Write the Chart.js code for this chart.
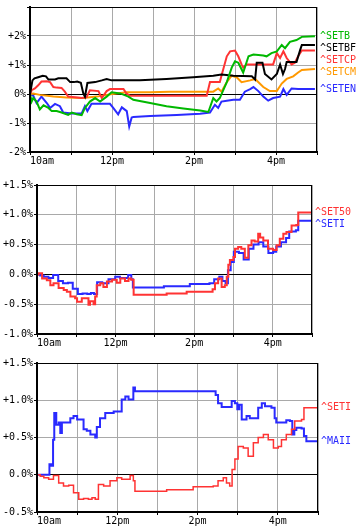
<!DOCTYPE html>
<html>
<head>
<meta charset="utf-8">
<script src="https://cdn.jsdelivr.net/npm/chart.js@4.4.1/dist/chart.umd.min.js"></script>
<style>
  html, body { margin: 0; padding: 0; background: #fff; }
  canvas { position: absolute; left: 0; }
</style>
</head>
<body>
<canvas id="c1" width="363" height="170" style="top:0"></canvas>
<canvas id="c2" width="363" height="180" style="top:170px"></canvas>
<canvas id="c3" width="363" height="177" style="top:350px"></canvas>
<script>
// === Данные: [час, % изменения] ===
const setb = [[10,0],[10.04,-0.26],[10.08,-0.14],[10.16,-0.26],[10.24,-0.53],[10.33,-0.39],[10.45,-0.48],
  [10.53,-0.59],[10.65,-0.59],[10.77,-0.64],[10.93,-0.72],[11.02,-0.64],[11.14,-0.70],[11.26,-0.73],
  [11.34,-0.48],[11.46,-0.26],[11.59,-0.14],[11.71,-0.26],[11.87,-0.09],[11.99,0.06],[12.2,0.02],
  [12.4,-0.09],[12.52,-0.2],[12.93,-0.31],[13.33,-0.42],[13.74,-0.5],[14.15,-0.57],[14.35,-0.62],
  [14.47,-0.14],[14.55,-0.26],[14.63,-0.14],[14.8,0.41],[14.92,0.91],[15,1.13],[15.08,1.08],[15.2,0.74],
  [15.33,1.3],[15.45,1.36],[15.69,1.33],[15.77,1.3],[15.89,1.41],[16.02,1.47],[16.14,1.69],[16.22,1.58],
  [16.34,1.8],[16.5,1.86],[16.63,1.97],[16.95,1.99]];
const setbf = [[10,0],[10.06,0.47],[10.11,0.54],[10.2,0.58],[10.31,0.63],[10.39,0.61],[10.45,0.5],
  [10.61,0.5],[10.69,0.54],[10.89,0.54],[10.98,0.41],[11.07,0.41],[11.15,0.43],[11.24,0.39],[11.3,0.02],
  [11.34,-0.09],[11.4,0.38],[11.59,0.41],[11.75,0.47],[11.87,0.52],[11.99,0.47],[12.68,0.47],[13.33,0.52],
  [13.98,0.58],[14.47,0.63],[14.67,0.67],[14.96,0.63],[15.41,0.61],[15.49,0.5],[15.53,1.08],[15.67,1.08],
  [15.73,0.69],[15.89,0.5],[16.02,0.69],[16.1,1.02],[16.17,0.69],[16.22,0.86],[16.26,1.1],[16.5,1.1],
  [16.59,1.52],[16.63,1.69],[16.95,1.69]];
const setcp = [[10,0],[10.04,0.13],[10.12,0.19],[10.2,0.3],[10.28,0.43],[10.41,0.44],[10.49,0.41],
  [10.57,0.24],[10.65,0.22],[10.77,0.21],[10.85,0.08],[10.93,-0.09],[11.26,-0.14],[11.38,-0.11],
  [11.46,0.13],[11.67,0.1],[11.75,-0.14],[11.87,0.1],[11.95,0.17],[12.28,0.17],[12.35,0.02],[12.44,-0.06],
  [14.31,-0.06],[14.39,0.41],[14.63,0.41],[14.67,0.63],[14.8,1.3],[14.88,1.47],[15,1.5],[15.08,1.3],
  [15.16,1.02],[15.2,0.91],[15.28,1.02],[15.61,1.02],[15.93,1.02],[16.02,1.41],[16.1,1.24],[16.18,1.47],
  [16.26,1.24],[16.38,1.02],[16.46,1.08],[16.54,1.3],[16.63,1.5],[16.95,1.5]];
const setcm = [[10,0],[10.08,0.02],[10.24,-0.03],[10.57,-0.09],[10.89,-0.12],[11.3,-0.14],[11.63,-0.09],
  [11.87,-0.03],[12.11,0.02],[12.36,0.06],[12.93,0.06],[13.41,0.08],[14.47,0.08],[14.59,0.19],[14.67,0.08],
  [14.8,0.41],[14.92,0.63],[15.04,0.58],[15.16,0.41],[15.37,0.47],[15.49,0.52],[15.69,0.24],[15.85,0.1],
  [16.02,0.1],[16.14,0.36],[16.26,0.52],[16.42,0.61],[16.54,0.74],[16.63,0.83],[16.95,0.86]];
const seten = [[10,0],[10.08,-0.06],[10.16,-0.31],[10.28,-0.09],[10.41,-0.31],[10.49,-0.48],[10.61,-0.34],
  [10.73,-0.42],[10.81,-0.64],[11.02,-0.67],[11.26,-0.67],[11.34,-0.42],[11.4,-0.59],[11.5,-0.34],
  [11.71,-0.34],[11.95,-0.34],[12.03,-0.48],[12.15,-0.7],[12.24,-0.46],[12.36,-0.59],[12.42,-1.12],
  [12.48,-0.81],[12.52,-0.79],[12.93,-0.76],[13.58,-0.72],[14.15,-0.68],[14.39,-0.64],[14.51,-0.37],
  [14.59,-0.48],[14.67,-0.26],[14.8,-0.23],[14.96,-0.2],[15.12,-0.2],[15.24,0.08],[15.37,0.17],
  [15.45,0.24],[15.57,0.1],[15.69,-0.09],[15.81,-0.23],[15.93,-0.14],[16.1,-0.09],[16.18,0.17],
  [16.26,-0.03],[16.38,0.19],[16.54,0.17],[16.95,0.17]];

const set50 = [[10,0],[10.04,0.02],[10.13,-0.07],[10.25,-0.1],[10.34,-0.18],[10.42,-0.15],[10.55,-0.23],
  [10.68,-0.26],[10.76,-0.29],[10.85,-0.37],[10.97,-0.4],[11.02,-0.46],[11.14,-0.4],[11.27,-0.4],
  [11.31,-0.51],[11.35,-0.45],[11.44,-0.5],[11.48,-0.37],[11.52,-0.18],[11.61,-0.15],[11.69,-0.21],
  [11.78,-0.12],[11.91,-0.09],[12.03,-0.14],[12.12,-0.07],[12.24,-0.11],[12.33,-0.07],[12.4,-0.09],
  [12.46,-0.34],[12.62,-0.34],[13.3,-0.32],[13.81,-0.29],[14.47,-0.25],[14.53,-0.15],[14.61,-0.07],
  [14.7,-0.21],[14.78,-0.18],[14.83,-0.04],[14.87,0.16],[14.91,0.24],[15,0.29],[15.04,0.43],[15.12,0.46],
  [15.2,0.43],[15.29,0.28],[15.38,0.49],[15.46,0.57],[15.54,0.55],[15.63,0.68],[15.68,0.62],[15.76,0.57],
  [15.88,0.43],[16.01,0.41],[16.1,0.49],[16.18,0.6],[16.27,0.68],[16.35,0.71],[16.48,0.82],[16.6,0.83],
  [16.65,1.04],[17,1.04]];
const seti = [[10,0],[10.08,-0.02],[10.17,-0.04],[10.29,-0.06],[10.41,-0.01],[10.54,-0.11],[10.66,-0.15],
  [10.79,-0.14],[10.91,-0.24],[11.04,-0.33],[11.16,-0.32],[11.28,-0.33],[11.37,-0.31],[11.45,-0.33],
  [11.53,-0.13],[11.66,-0.15],[11.82,-0.08],[11.99,-0.04],[12.11,-0.06],[12.32,-0.01],[12.4,-0.08],
  [12.44,-0.22],[12.57,-0.22],[13.23,-0.2],[13.89,-0.16],[14.39,-0.15],[14.51,-0.08],[14.64,-0.04],
  [14.72,-0.11],[14.8,-0.15],[14.86,0.07],[14.93,0.21],[15.01,0.38],[15.14,0.36],[15.26,0.25],
  [15.39,0.43],[15.51,0.5],[15.64,0.54],[15.76,0.47],[15.89,0.36],[16.01,0.38],[16.09,0.47],
  [16.21,0.54],[16.34,0.61],[16.42,0.72],[16.59,0.74],[16.65,0.9],[17,0.9]];
const maii = [[10,0],[10.25,0],[10.31,0.14],[10.36,0.12],[10.4,0.47],[10.43,0.83],[10.48,0.67],[10.54,0.7],
  [10.58,0.56],[10.62,0.7],[10.75,0.7],[10.83,0.76],[10.91,0.79],[11,0.74],[11.12,0.74],[11.16,0.61],
  [11.24,0.59],[11.33,0.54],[11.45,0.5],[11.49,0.64],[11.57,0.76],[11.7,0.83],[11.82,0.83],[11.91,0.85],
  [12.03,0.85],[12.11,1.01],[12.2,1.05],[12.28,1.01],[12.36,1.01],[12.4,1.17],[12.44,1.12],[12.57,1.12],
  [14.39,1.12],[14.45,1.07],[14.51,0.96],[14.6,0.91],[14.8,0.91],[14.85,0.99],[14.93,0.96],[14.99,0.88],
  [15.04,0.94],[15.1,0.74],[15.22,0.79],[15.3,0.76],[15.43,0.76],[15.51,0.9],[15.6,0.96],[15.68,0.92],
  [15.84,0.9],[15.92,0.76],[15.96,0.7],[16.13,0.7],[16.21,0.73],[16.3,0.72],[16.36,0.54],[16.41,0.6],
  [16.46,0.63],[16.59,0.62],[16.65,0.52],[16.71,0.45],[17,0.45]];

const hourTicks = [10, 11, 12, 13, 14, 15, 16, 17];

// === Общие настройки ===
const FONT = { family: '"DejaVu Sans Mono", monospace', size: 10 };
const GRID = '#a9a9a9';

function hourLabel(h) {
  if (h % 2) return '';
  if (h === 12) return '12pm';
  return h < 12 ? h + 'am' : (h - 12) + 'pm';
}

// подписи серий справа + чёрная рамка
const edgeLabels = {
  id: 'edgeLabels',
  afterDatasetsDraw(chart) {
    const { ctx, chartArea: a, scales } = chart;
    const items = chart.data.datasets.map(ds => ({
      text: ds.label,
      color: ds.borderColor,
      y: scales.y.getPixelForValue(ds.data[ds.data.length - 1].y)
    })).sort((p, q) => p.y - q.y);
    for (let i = 1; i < items.length; i++)
      if (items[i].y - items[i - 1].y < 12) items[i].y = items[i - 1].y + 12;
    ctx.save();
    ctx.strokeStyle = '#000';
    ctx.lineWidth = 1;
    ctx.strokeRect(a.left + 0.5, a.top + 0.5, a.width - 1, a.height - 1);
    ctx.font = '10px "DejaVu Sans Mono"';
    ctx.textBaseline = 'middle';
    items.forEach(it => {
      ctx.fillStyle = it.color;
      ctx.fillText(it.text, a.right + 3, it.y);
    });
    ctx.restore();
  }
};

function makeChart(id, series, box, yOpt, stepped) {
  new Chart(document.getElementById(id), {
    type: 'line',
    data: {
      datasets: series.map(s => ({
        label: s.label,
        data: s.data.map(([x, y]) => ({ x, y })),
        borderColor: s.color,
        borderWidth: s.width || 2,
        pointRadius: 0,
        tension: 0,
        stepped: stepped,
        fill: false
      }))
    },
    options: {
      responsive: false,
      animation: false,
      devicePixelRatio: 1,
      layout: { padding: { left: 0, right: box.right, top: box.top, bottom: 0 } },
      plugins: { legend: { display: false }, tooltip: { enabled: false } },
      scales: {
        x: {
          type: 'linear',
          min: 10,
          max: 17,
          afterFit: s => { s.height = box.xh; },
          afterBuildTicks: s => { s.ticks = hourTicks.map(v => ({ value: v })); },
          grid: { color: GRID, tickLength: 3, tickColor: '#000' },
          border: { color: '#000', width: 2 },
          ticks: { font: FONT, color: '#000', padding: 0, maxRotation: 0, autoSkip: false,
                   align: 'inner', callback: hourLabel }
        },
        y: {
          min: yOpt.min,
          max: yOpt.max,
          afterFit: s => { s.width = box.left; },
          grid: {
            color: c => (c.tick.value === 0 ? '#000' : GRID),
            tickLength: 3,
            tickColor: '#000'
          },
          border: { color: '#000', width: 2 },
          ticks: { font: FONT, color: '#000', padding: 1, stepSize: yOpt.step, callback: yOpt.fmt }
        }
      }
    },
    plugins: [edgeLabels]
  });
}

const fmtInt = v => (v === 3 ? '' : (v > 0 ? '+' : '') + v + '%');
const fmtDec = v => (v > 0 ? '+' : '') + v.toFixed(1) + '%';

makeChart('c1', [
  { label: '^SETB', data: setb, color: '#00b800' },
  { label: '^SETBF', data: setbf, color: '#000000' },
  { label: '^SETCP', data: setcp, color: '#ff3333' },
  { label: '^SETCM', data: setcm, color: '#ff9900' },
  { label: '^SETEN', data: seten, color: '#2a2aff' }
], { left: 30, right: 46, top: 3, xh: 18 }, { min: -2, max: 3, step: 1, fmt: fmtInt }, false);

makeChart('c2', [
  { label: '^SET50', data: set50, color: '#ff3333' },
  { label: '^SETI', data: seti, color: '#2a2aff' }
], { left: 37, right: 51, top: 15, xh: 16 }, { min: -1, max: 1.5, step: 0.5, fmt: fmtDec }, true);

makeChart('c3', [
  { label: '^SETI', data: seti, color: '#ff3333', width: 1.5 },
  { label: '^MAII', data: maii, color: '#2a2aff' }
], { left: 37, right: 45, top: 13, xh: 15 }, { min: -0.5, max: 1.5, step: 0.5, fmt: fmtDec }, true);
</script>
</body>
</html>
